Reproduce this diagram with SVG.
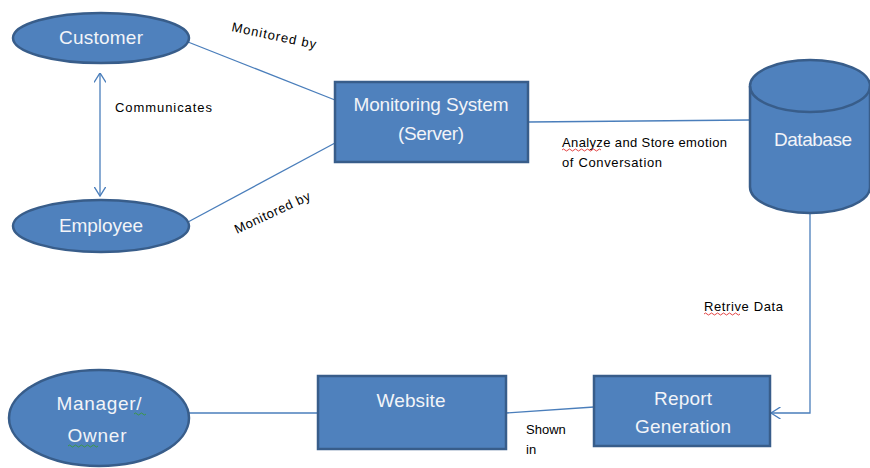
<svg xmlns="http://www.w3.org/2000/svg" width="870" height="468" viewBox="0 0 870 468">
<defs>
<style>
.node{fill:#4f81bd;stroke:#385d8a;stroke-width:2.5}
.nt{font-family:"Liberation Sans",Arial,sans-serif;font-size:19px;fill:#f2f4f8;text-anchor:middle}
.conn{fill:none;stroke:#4a7ebb;stroke-width:1.3}
.lbl{font-family:"Liberation Sans",Arial,sans-serif;font-size:13px;fill:#000}
.red{fill:none;stroke:#e03030;stroke-width:0.9}
.grn{fill:none;stroke:#3a9a3a;stroke-width:0.9}
</style>
<marker id="arr" viewBox="0 0 10 12" refX="9.5" refY="6" markerWidth="10" markerHeight="12" markerUnits="userSpaceOnUse" orient="auto-start-reverse">
<path d="M0,0 L9.5,6 L0,12" fill="none" stroke="#4a7ebb" stroke-width="1.4"/>
</marker>
</defs>
<rect width="870" height="468" fill="#ffffff"/>

<g id="connectors">
<line class="conn" x1="100" y1="73" x2="100" y2="196" marker-start="url(#arr)" marker-end="url(#arr)"/>
<line class="conn" x1="188" y1="42" x2="335" y2="100"/>
<line class="conn" x1="188" y1="222" x2="335" y2="143"/>
<line class="conn" x1="528" y1="122" x2="750" y2="120"/>
<path class="conn" d="M810,213 V413 H771" marker-end="url(#arr)"/>
<line class="conn" x1="506" y1="413" x2="594" y2="407"/>
<line class="conn" x1="189" y1="413" x2="318" y2="413"/>
<text class="lbl" x="115" y="112" textLength="97">Communicates</text>
<text class="lbl" transform="translate(231,31) rotate(12)" textLength="86">Monitored by</text>
<text class="lbl" transform="translate(237,234) rotate(-25)" textLength="82">Monitored by</text>
<text class="lbl" x="562" y="147" textLength="165">Analyze and Store emotion</text>
<text class="lbl" x="562" y="167" textLength="100">of Conversation</text>
<path class="red" d="M562,150 q1.5,-2 3,0 t3,0 t3,0 t3,0 t3,0 t3,0 t3,0 t3,0 t3,0 t3,0 t3,0 t3,0 t3,0"/>
<text class="lbl" x="704" y="311" textLength="79">Retrive Data</text>
<path class="red" d="M704,314 q1.5,-2 3,0 t3,0 t3,0 t3,0 t3,0 t3,0 t3,0 t3,0 t3,0 t3,0 t3,0 t3,0"/>
<text class="lbl" x="526" y="434">Shown</text>
<text class="lbl" x="526" y="454">in</text>
</g>

<g id="customer">
<ellipse class="node" cx="101" cy="38" rx="88" ry="25"/>
<text class="nt" x="101" y="44" textLength="84">Customer</text>
</g>

<g id="employee">
<ellipse class="node" cx="101" cy="226" rx="88" ry="26"/>
<text class="nt" x="101" y="232" textLength="84">Employee</text>
</g>

<g id="monitoring-system">
<rect class="node" x="335" y="82" width="193" height="80"/>
<text class="nt" x="431" y="111" textLength="155">Monitoring System</text>
<text class="nt" x="431" y="140" textLength="66">(Server)</text>
</g>

<g id="database">
<path class="node" d="M750,86 L750,187 A60,26 0 0 0 870,187 L870,86 A60,26 0 0 0 750,86 Z"/>
<path d="M750,86 A60,26 0 0 0 870,86" fill="none" stroke="#385d8a" stroke-width="2.5"/>
<text class="nt" x="813" y="146" textLength="78">Database</text>
</g>

<g id="report-generation">
<rect class="node" x="594" y="376" width="176" height="70"/>
<text class="nt" x="683" y="405" textLength="58">Report</text>
<text class="nt" x="683" y="433" textLength="96">Generation</text>
</g>

<g id="website">
<rect class="node" x="318" y="376" width="188" height="73"/>
<text class="nt" x="411" y="407" textLength="69">Website</text>
</g>

<g id="manager-owner">
<ellipse class="node" cx="99" cy="418" rx="90" ry="48"/>
<text class="nt" x="99" y="410" textLength="85">Manager/</text>
<text class="nt" x="97" y="442" textLength="59">Owner</text>
<path class="grn" d="M134,414 q1.5,-2 3,0 t3,0 t3,0 t3,0"/>
<path class="grn" d="M68,446 q1.5,-2 3,0 t3,0 t3,0 t3,0 t3,0 t3,0 t3,0 t3,0 t3,0 t3,0"/>
</g>
</svg>
